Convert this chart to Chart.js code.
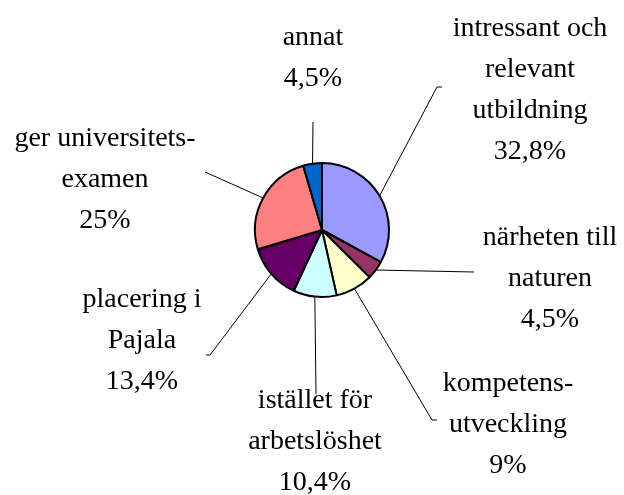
<!DOCTYPE html>
<html>
<head>
<meta charset="utf-8">
<script src="https://cdn.jsdelivr.net/npm/chart.js@4/dist/chart.umd.min.js"></script>
<style>
  html, body { margin: 0; padding: 0; background: #fff; }
  #wrap { width: 624px; height: 495px; }
</style>
</head>
<body>
<div id="wrap"><canvas id="pieChart" width="624" height="495"></canvas></div>
<script>
const categories = [
  ['intressant och', 'relevant', 'utbildning'],
  ['närheten till', 'naturen'],
  ['kompetens-', 'utveckling'],
  ['istället för', 'arbetslöshet'],
  ['placering i', 'Pajala'],
  ['ger universitets-', 'examen'],
  ['annat']
];
const shares = [32.8, 4.5, 9, 10.4, 13.4, 25, 4.5];
const sliceColors = ['#9999FF', '#993366', '#FFFFCC', '#CCFFFF', '#660066', '#FF8080', '#0066CC'];

// where each label sits: line end (x, y), little end tick, text centre x, first baseline y
const labelSpots = [
  { end: [437, 87], tick: 5, tx: 530, ty: 36 },
  { end: [474, 272], tick: 0, tx: 550, ty: 245 },
  { end: [432, 420], tick: 5, tx: 508, ty: 391 },
  { end: [316, 394], tick: 0, tx: 315, ty: 408 },
  { end: [210, 355], tick: -4, tx: 142, ty: 307 },
  { end: [205, 172], tick: 0, tx: 105, ty: 146 },
  { end: [313, 122], tick: 0, tx: 313, ty: 45 }
];

const fmt = v => String(v).replace('.', ',') + '%';
const FONT = '28px "Liberation Serif", "DejaVu Serif", serif';
const LINE_GAP = 41;

const leaderLabels = {
  id: 'leaderLabels',
  afterDraw(chart) {
    const ctx = chart.ctx;
    const arcs = chart.getDatasetMeta(0).data;
    ctx.save();
    ctx.strokeStyle = '#000';
    ctx.lineWidth = 1;
    arcs.forEach((arc, i) => {
      const spot = labelSpots[i];
      const mid = (arc.startAngle + arc.endAngle) / 2;
      const sx = arc.x + Math.cos(mid) * arc.outerRadius;
      const sy = arc.y + Math.sin(mid) * arc.outerRadius;
      ctx.beginPath();
      ctx.moveTo(sx, sy);
      ctx.lineTo(spot.end[0], spot.end[1]);
      if (spot.tick) ctx.lineTo(spot.end[0] + spot.tick, spot.end[1]);
      ctx.stroke();

      ctx.fillStyle = '#000';
      ctx.font = FONT;
      ctx.textAlign = 'center';
      ctx.textBaseline = 'alphabetic';
      const lines = categories[i].concat([fmt(shares[i])]);
      lines.forEach((t, k) => ctx.fillText(t, spot.tx, spot.ty + k * LINE_GAP));
    });
    ctx.restore();
  }
};

function draw() {
  new Chart(document.getElementById('pieChart'), {
    type: 'pie',
    data: {
      labels: categories,
      datasets: [{
        data: shares,
        backgroundColor: sliceColors,
        borderColor: '#000',
        borderWidth: 2,
        hoverOffset: 0,
        radius: 67
      }]
    },
    options: {
      responsive: false,
      animation: false,
      events: [],
      layout: { padding: { left: 254, right: 234, top: 162, bottom: 197 } },
      plugins: {
        legend: { display: false },
        tooltip: { enabled: false },
        title: { display: false }
      }
    },
    plugins: [leaderLabels]
  });
}

document.fonts.load(FONT).then(draw, draw);
</script>
</body>
</html>
